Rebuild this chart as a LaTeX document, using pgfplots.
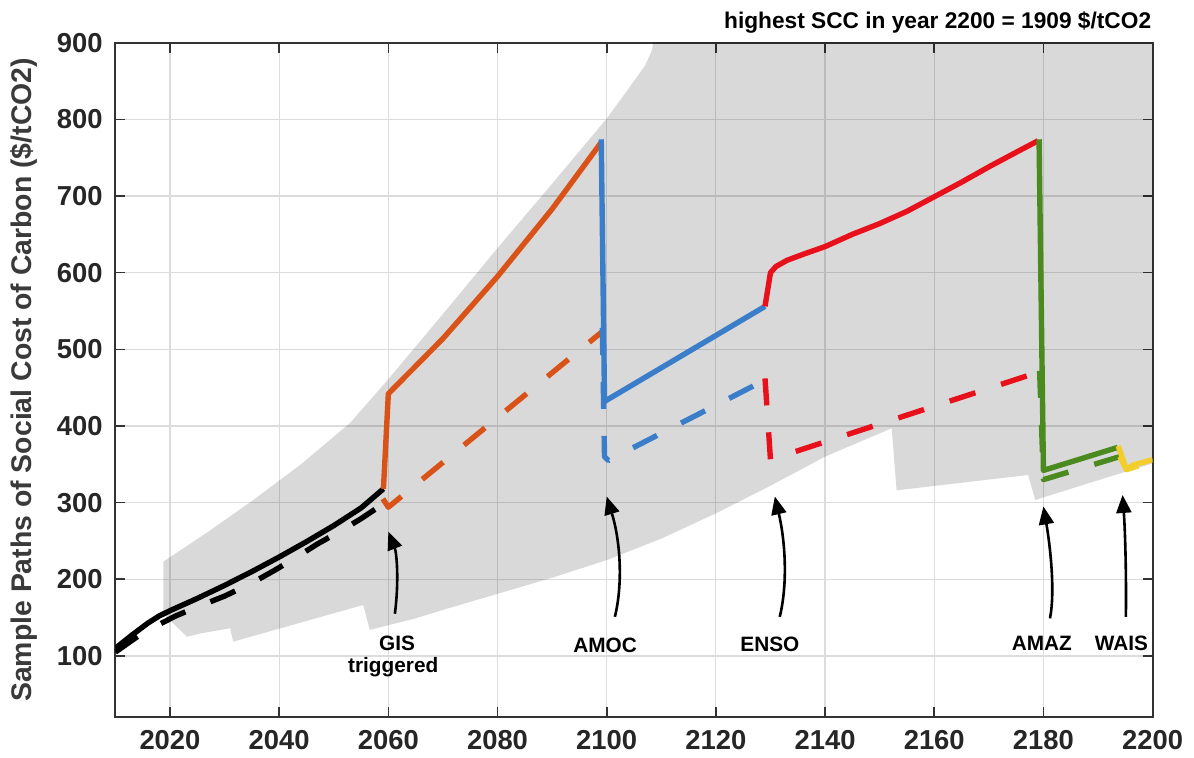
\documentclass[border=0pt]{standalone}
\usepackage{pgfplots}
\pgfplotsset{compat=1.18}
\usepackage{fontspec}
\setmainfont{Liberation Sans}
\usetikzlibrary{arrows.meta}
\definecolor{morange}{HTML}{D95319}
\definecolor{mblue}{HTML}{3A7DC9}
\definecolor{mred}{HTML}{E8101A}
\definecolor{mgreen}{HTML}{4A8A1F}
\definecolor{myellow}{HTML}{F2CD2C}
\definecolor{gridgray}{HTML}{DCDCDC}
\definecolor{axisgray}{HTML}{333333}
\definecolor{ticktext}{HTML}{262626}
\definecolor{labelgray}{HTML}{3A3A3A}
\tikzset{
  sline/.style={line width=2.7pt, line join=round, line cap=butt},
  dline/.style={line width=2.7pt, line join=round, line cap=butt, dash pattern=on 13.5pt off 13.5pt},
  annarrow/.style={line width=1.3pt, -{Triangle[width=7.5pt,length=9pt]}},
  annlabel/.style={anchor=base, inner sep=0pt, font=\fontsize{10.4}{11}\selectfont\bfseries}
}
\begin{document}
\begin{tikzpicture}
\begin{axis}[
  name=ax,
  scale only axis, width=518.65pt, height=337.3pt,
  at={(0,0)}, anchor=south west,
  xmin=2010, xmax=2200, ymin=20, ymax=900,
  xtick={2020,2040,...,2200}, ytick={100,200,...,900},
  grid=major, major grid style={draw=gridgray, line width=0.6pt},
  tick align=inside, major tick length=5pt,
  every tick/.style={draw=axisgray, line width=0.8pt},
  axis line style={draw=axisgray, line width=0.9pt},
  /pgf/number format/assume math mode=true,
  /pgf/number format/1000 sep={},
  xticklabel style={font=\fontsize{13.7}{14}\selectfont\bfseries, text=ticktext, inner sep=0pt, anchor=north, yshift=-6.35pt},
  yticklabel style={font=\fontsize{13.7}{14}\selectfont\bfseries, text=ticktext, inner sep=0pt, anchor=east, xshift=-6.2pt},
  ylabel={Sample Paths of Social Cost of Carbon (\$/tCO2)},
  ylabel style={at={([xshift=-38.7pt]axis description cs:0,0.5)}, anchor=south, inner sep=0pt, font=\fontsize{14.2}{15}\selectfont\bfseries, text=labelgray},
]
% uncertainty band
\addplot[draw=none, fill=black, fill opacity=0.15, forget plot] coordinates {
(2018.8,155) (2018.8,223) (2027,262) (2035,302) (2044,350) (2053,404) (2060,461) (2070,546) (2080,632) (2090,716) (2100,801) (2104,840) (2107,870) (2108.3,890) (2108.6,905) (2200,905) (2200,351) (2194,338) (2178.5,303.5) (2177.2,336) (2153.1,316) (2152.2,397) (2140,360) (2130,322) (2120,286) (2110,253) (2100,225) (2090,202) (2080,181) (2070,160) (2065,149) (2056.6,134) (2055.4,166.5) (2031.6,118.6) (2031,136) (2025.8,129.6) (2023.1,125) (2018.8,155)
} -- cycle;

% dashed paths
\addplot[dline, black] coordinates {(2010,105) (2015,130) (2021,152) (2025,164) (2030,178) (2035,195) (2039,211) (2043,228) (2047,246) (2051,262) (2055,279) (2059,298)};
\addplot[dline, morange] coordinates {(2059,305) (2060,294) (2099,522)};
\addplot[dline, mblue] coordinates {(2099.2,528) (2099.6,360) (2100.3,355) (2129,460)};
\addplot[dline, mred] coordinates {(2129,462) (2130,356) (2179,470)};
\addplot[dline, mgreen] coordinates {(2179.3,472) (2180,330) (2194,360)};
\addplot[dline, myellow] coordinates {(2194,360) (2195.2,343) (2200,354)};

% solid paths
\addplot[sline, black] coordinates {(2010,110) (2013,127) (2016,143) (2018,152) (2020,159) (2025,175) (2030,192) (2035,210) (2040,229) (2045,249) (2050,270) (2055,293) (2059.1,318)};
\addplot[sline, morange] coordinates {(2059.1,318) (2060,442) (2070,514) (2080,595) (2090,683) (2099,770)};
\addplot[sline, mblue] coordinates {(2099,774) (2099.6,432) (2129,556)};
\addplot[sline, mred] coordinates {(2129,556) (2130,600) (2131,608) (2133,616) (2136,624) (2140,634) (2145,650) (2150,664) (2155,680) (2160,699) (2165,718) (2170,738) (2175,757) (2179,772)};
\addplot[sline, mgreen] coordinates {(2179.2,774) (2180,342) (2193.6,372)};
\addplot[sline, myellow] coordinates {(2193.7,374) (2195.2,343) (2196.4,349) (2200,356)};

% annotation arrows
\draw[annarrow] (axis cs:2061.2,155) .. controls (axis cs:2062,200) and (axis cs:2061.5,235) .. (axis cs:2060,262);
\draw[annarrow] (axis cs:2101.5,151) .. controls (axis cs:2103,195) and (axis cs:2102.5,250) .. (axis cs:2100,308);
\draw[annarrow] (axis cs:2131.7,151) .. controls (axis cs:2133.2,195) and (axis cs:2132.7,250) .. (axis cs:2130.8,308);
\draw[annarrow] (axis cs:2181.2,149) .. controls (axis cs:2182.2,185) and (axis cs:2181.2,245) .. (axis cs:2180,295);
\draw[annarrow] (axis cs:2195.1,151) .. controls (axis cs:2195.2,200) and (axis cs:2195,260) .. (axis cs:2194.5,310);

% annotation labels
\node[annlabel] at (axis cs:2061.6,106.5) {GIS};
\node[annlabel] at (axis cs:2060.9,78.5) {triggered};
\node[annlabel] at (axis cs:2099.7,104.3) {AMOC};
\node[annlabel] at (axis cs:2129.9,105.6) {ENSO};
\node[annlabel] at (axis cs:2179.7,106.9) {AMAZ};
\node[annlabel] at (axis cs:2194.3,106.9) {WAIS};
\end{axis}
\node[anchor=base east, inner sep=0pt, font=\fontsize{11.35}{12}\selectfont\bfseries] at (518.15pt,344.5pt) {highest SCC in year 2200 = 1909 \$/tCO2};
\pgfresetboundingbox
\useasboundingbox (-57.7pt,-20.35pt) rectangle (539.35pt,358.65pt);
\end{tikzpicture}
\end{document}
